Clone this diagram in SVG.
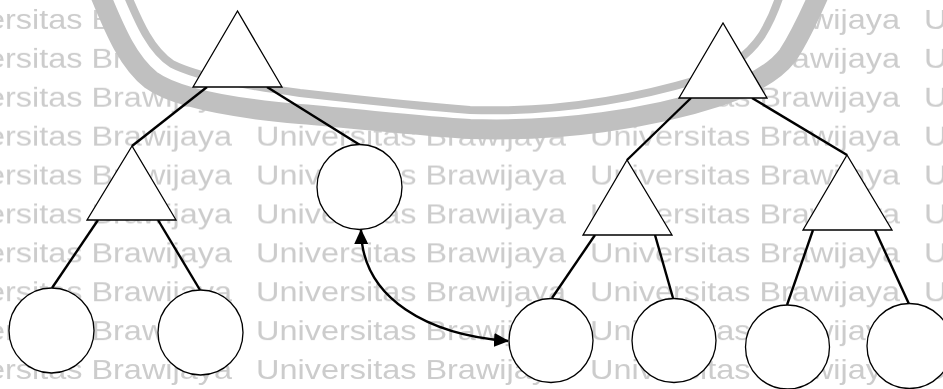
<svg xmlns="http://www.w3.org/2000/svg" width="943" height="389" viewBox="0 0 943 389">
<style>
.wm{font-family:"Liberation Sans",Arial,sans-serif;font-size:28px;fill:#cccccc}
.band{fill:none;stroke:#c0c0c0;stroke-linecap:butt;stroke-linejoin:round}
.tri,.leaf{fill:#ffffff;stroke:#000000;stroke-width:1.3}
.edge{fill:none;stroke:#000000;stroke-width:2.4}
.arrow{fill:none;stroke:#000000;stroke-width:2.4;marker-start:url(#ah);marker-end:url(#ah)}
</style>
<defs>
<pattern id="wm" patternUnits="userSpaceOnUse" x="-78" y="0" width="334" height="38.9">
<text class="wm" x="0" y="29" textLength="310" lengthAdjust="spacingAndGlyphs">Universitas Brawijaya</text>
</pattern>
<marker id="ah" markerUnits="userSpaceOnUse" viewBox="0 0 15 14" markerWidth="15" markerHeight="14" refX="14" refY="7" orient="auto-start-reverse">
<path d="M0,0 L15,7 L0,14 z" fill="#000000"/>
</marker>
</defs>
<g id="watermark">
<rect x="0" y="0" width="943" height="389" fill="#ffffff"/>
<rect x="0" y="0" width="943" height="389" fill="url(#wm)"/>
<path fill="#ffffff" d="M99,-8 C113,25 126,60 151,80 C176,98 230,108 300,114 C370,120 420,126 470,129 C560,132 650,119 720,96 C750,86 775,72 788,55 C799,38 810,15 820,-8 Z"/>
<path class="band" stroke-width="20" d="M99,-8 C113,25 126,60 151,80 C176,98 230,108 300,114 C370,120 420,126 470,129 C560,132 650,119 720,96 C750,86 775,72 788,55 C799,38 810,15 820,-8"/>
<path class="band" stroke-width="8" d="M126,-8 C138,20 150,50 172,64 C200,78 250,86 300,93 C380,102 430,107 470,110 C560,113 640,97 700,79 C735,68 752,50 762,35 C770,22 776,8 781,-8"/>
</g>
<g id="connectors">
<line class="edge" x1="207" y1="87" x2="132" y2="146"/>
<line class="edge" x1="267" y1="87" x2="360" y2="145"/>
<line class="edge" x1="98" y1="220" x2="52" y2="288"/>
<line class="edge" x1="158" y1="220" x2="200" y2="290"/>
<line class="edge" x1="691" y1="98" x2="627" y2="160"/>
<line class="edge" x1="752" y1="98" x2="847" y2="155"/>
<line class="edge" x1="595" y1="235" x2="552" y2="298"/>
<line class="edge" x1="655" y1="235" x2="673" y2="298"/>
<line class="edge" x1="813" y1="230" x2="787" y2="305"/>
<line class="edge" x1="875" y1="230" x2="909" y2="304"/>
<path id="swap" class="arrow" d="M361,230 C362,300 430,335 508,341"/>
</g>
<g id="L-root"><polygon class="tri" points="237.5,11 193,87 282,87"/></g>
<g id="L-sub"><polygon class="tri" points="132,146 87,220 176,220"/></g>
<g id="L-circle"><circle class="leaf" cx="359.5" cy="187" r="42.5"/></g>
<g id="L-leaf1"><circle class="leaf" cx="51.5" cy="330.5" r="42.5"/></g>
<g id="L-leaf2"><circle class="leaf" cx="200.5" cy="332.5" r="42.5"/></g>
<g id="R-root"><polygon class="tri" points="723,23 679,98 767,98"/></g>
<g id="R-sub1"><polygon class="tri" points="627,160 583,235 672,235"/></g>
<g id="R-sub2"><polygon class="tri" points="847,155 803,230 892,230"/></g>
<g id="R-leaf1"><circle class="leaf" cx="551" cy="340.5" r="42"/></g>
<g id="R-leaf2"><circle class="leaf" cx="674" cy="340.5" r="42"/></g>
<g id="R-leaf3"><circle class="leaf" cx="787.5" cy="347" r="42"/></g>
<g id="R-leaf4"><circle class="leaf" cx="909.5" cy="346" r="42.5"/></g>
</svg>
